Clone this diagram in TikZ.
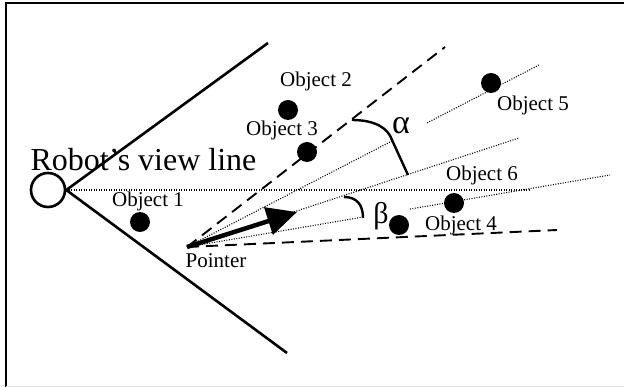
\documentclass[tikz,border=0pt]{standalone}
\usepackage{fontspec}
\setmainfont{Liberation Serif}
\usetikzlibrary{arrows.meta,calc}

\tikzset{
    viewline/.style={line width=2.6pt},
    rayline/.style={line width=1.1pt, dash pattern=on 1pt off 1.5pt},
    dashray/.style={line width=1.9pt, dash pattern=on 12pt off 7pt},
    obj/.style={circle, fill=black, inner sep=0pt, minimum size=20pt},
    objlabel/.style={inner sep=0pt, font=\fontsize{21}{21}\selectfont},
    anglemark/.style={line width=2.4pt},
}

\begin{document}
\begin{tikzpicture}[x=1pt,y=-1pt]
    \useasboundingbox (0,0) rectangle (624,387);
    \draw[line width=2pt] (5.5,387) -- (5.5,3) -- (624,3);
    \draw[black!12, line width=1pt] (5.5,386) -- (624,386);

    \node[circle, draw, line width=2.6pt, minimum size=34pt, inner sep=0pt] (robot) at (48,190) {};
    \draw[viewline] (robot.east) -- (268,43);
    \draw[viewline] (robot.east) -- (287,353);
    \draw[rayline] (robot.east) -- (530,190);
    \node[inner sep=0pt, font=\fontsize{32}{32}\selectfont] (viewlbl) at (143.5,160) {Robot's view line};

    \coordinate (pointer) at (187,247);
    \coordinate (endA) at (445,47);
    \coordinate (endB) at (557,230);
    \coordinate (end5) at (539,65);
    \coordinate (endM) at (519,138);
    \coordinate (end6) at (610,175);

    \draw[dashray] (pointer) -- (endA);
    \draw[dashray] (pointer) -- (endB);
    \draw[rayline] (pointer) -- ($(pointer)!0.585!(end5)$);
    \draw[rayline] ($(pointer)!0.682!(end5)$) -- (end5);
    \draw[rayline] (pointer) -- (endM);
    \draw[rayline] (pointer) -- ($(pointer)!0.416!(end6)$);
    \draw[rayline] ($(pointer)!0.527!(end6)$) -- (end6);

    \draw[line width=4.5pt, -{Triangle[length=30pt,width=28pt]}] (pointer) -- (297,212);
    \node[objlabel] (pointerlbl) at (216,261) {Pointer};

    \draw[anglemark] (352,120) .. controls (375,120) and (388,128) .. (392,140) -- (408,175);
    \draw[anglemark] (344,197) .. controls (357,197) and (363,205) .. (363,218);
    \node[inner sep=0pt, font=\fontsize{34}{34}\selectfont] (alpha) at (401,126) {α};
    \node[inner sep=0pt, font=\fontsize{30}{30}\selectfont] (beta) at (381,216) {β};

    \node[obj] (obj1) at (140,222) {};
    \node[obj] (obj2) at (288,110) {};
    \node[obj] (obj3) at (307,152) {};
    \node[obj] (obj4) at (399,225) {};
    \node[obj] (obj5) at (491,83) {};
    \node[obj] (obj6) at (454,203) {};

    \node[objlabel] (lbl1) at (148,201) {Object 1};
    \node[objlabel] (lbl2) at (316,81) {Object 2};
    \node[objlabel] (lbl3) at (282,130) {Object 3};
    \node[objlabel] (lbl4) at (461,225) {Object 4};
    \node[objlabel] (lbl5) at (533,105) {Object 5};
    \node[objlabel] (lbl6) at (482,175) {Object 6};
\end{tikzpicture}
\end{document}
